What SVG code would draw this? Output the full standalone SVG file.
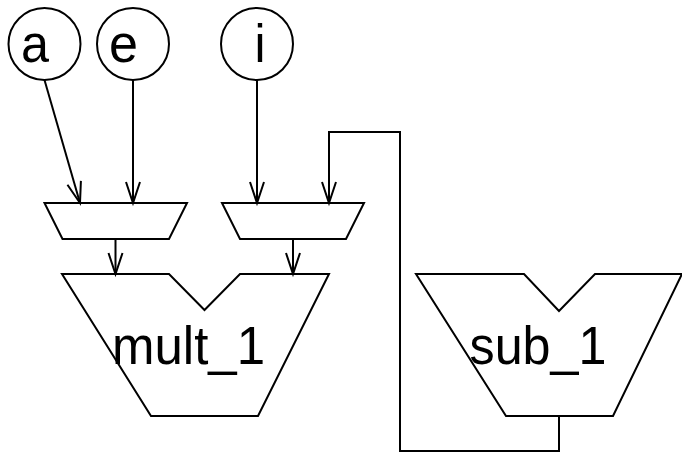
<svg xmlns="http://www.w3.org/2000/svg" width="682" height="453" viewBox="0 0 682 453">
<style>
.s{fill:none;stroke:#000;stroke-width:2}
.n{fill:#fff;stroke:#000;stroke-width:2}
.o{fill:none;stroke:#000;stroke-width:2}
text{font-family:"Liberation Sans",Arial,sans-serif;font-size:54px;fill:#000}
</style>
<defs>
<marker id="arr" markerUnits="userSpaceOnUse" markerWidth="24" markerHeight="16" refX="22" refY="7" orient="auto" viewBox="0 0 24 14" overflow="visible">
<path d="M1 0L22 7L1 14" fill="none" stroke="#000" stroke-width="2"/>
</marker>
</defs>
<g id="node-a"><circle class="n" cx="44.5" cy="44" r="36"/><text x="21" y="62" textLength="28" lengthAdjust="spacingAndGlyphs">a</text></g>
<g id="node-e"><circle class="n" cx="133" cy="44" r="36"/><text x="109" y="62" textLength="29" lengthAdjust="spacingAndGlyphs">e</text></g>
<g id="node-i"><circle class="n" cx="257" cy="44" r="36"/><text x="254.600" y="62" textLength="11" lengthAdjust="spacingAndGlyphs">i</text></g>
<g id="mux-1"><path class="o" d="M44.500 203H187L169 239H62.500Z"/></g>
<g id="mux-2"><path class="o" d="M222 203H364L346 239H240Z"/></g>
<g id="mult_1"><path class="o" d="M62 274H169L204.500 310L240 274H329L258 416H151Z"/><text x="112" y="364" textLength="153" lengthAdjust="spacingAndGlyphs">mult_1</text></g>
<g id="sub_1"><path class="o" d="M416 274H524L559 311L595 274H682L613 416H506Z"/><text x="469.500" y="364" textLength="137" lengthAdjust="spacingAndGlyphs">sub_1</text></g>
<g id="connectors">
<path class="s" marker-end="url(#arr)" d="M44.500 80L80 203"/>
<path class="s" marker-end="url(#arr)" d="M133 80V203"/>
<path class="s" marker-end="url(#arr)" d="M257 80V203"/>
<path class="s" marker-end="url(#arr)" d="M115.500 239V274"/>
<path class="s" marker-end="url(#arr)" d="M293 239V274"/>
<path class="s" marker-end="url(#arr)" d="M559 416V451H400V132H329V203"/>
</g>
</svg>
